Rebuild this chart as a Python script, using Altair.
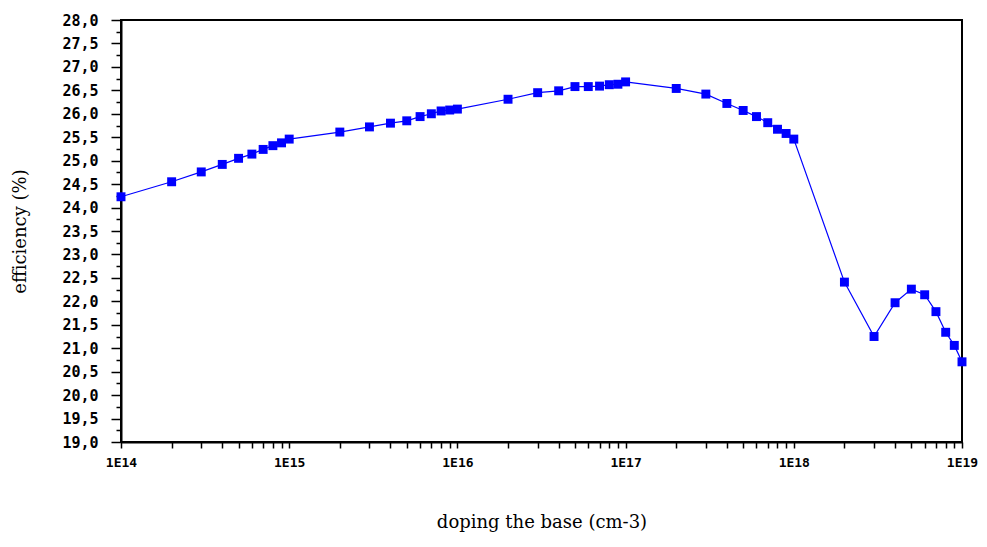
import altair as alt
import pandas as pd

doping = [
    1e14, 2e14, 3e14, 4e14, 5e14, 6e14, 7e14, 8e14, 9e14,
    1e15, 2e15, 3e15, 4e15, 5e15, 6e15, 7e15, 8e15, 9e15,
    1e16, 2e16, 3e16, 4e16, 5e16, 6e16, 7e16, 8e16, 9e16,
    1e17, 2e17, 3e17, 4e17, 5e17, 6e17, 7e17, 8e17, 9e17,
    1e18, 2e18, 3e18, 4e18, 5e18, 6e18, 7e18, 8e18, 9e18,
    1e19,
]
efficiency = [
    24.23, 24.55, 24.76, 24.92, 25.05, 25.14, 25.24, 25.32, 25.38,
    25.46, 25.61, 25.72, 25.80, 25.85, 25.94, 26.00, 26.06, 26.08,
    26.10, 26.31, 26.45, 26.49, 26.58, 26.58, 26.59, 26.62, 26.63,
    26.68, 26.54, 26.42, 26.22, 26.07, 25.94, 25.81, 25.67, 25.58,
    25.46, 22.41, 21.25, 21.97, 22.26, 22.14, 21.78, 21.34, 21.06,
    20.71,
]
y_ticks = [19 + 0.25 * i for i in range(37)]
x_ticks = doping

df = pd.DataFrame({"doping": doping, "efficiency": efficiency})

x_enc = alt.X(
    "doping:Q",
    scale=alt.Scale(type="log", domain=[1e14, 1e19], nice=False),
    axis=alt.Axis(
        values=x_ticks,
        labelExpr="abs(log(datum.value)/LN10 - round(log(datum.value)/LN10)) < 0.001 ? '1E' + round(log(datum.value)/LN10) : ''",
        labelOverlap=False,
        labelFlush=False,
        tickSize=6,
        tickWidth=1.5,
        tickColor="black",
        domainColor="black",
        domainWidth=2,
        labelFont="DejaVu Sans Mono",
        labelFontWeight="bold",
        labelFontSize=13,
        labelColor="black",
        labelPadding=8,
        title="doping the base (cm-3)",
        titleFont="DejaVu Serif",
        titleFontWeight="normal",
        titleFontSize=18,
        titleColor="black",
        titlePadding=44,
        grid=False,
    ),
)
y_enc = alt.Y(
    "efficiency:Q",
    scale=alt.Scale(domain=[19, 28], nice=False, zero=False),
    axis=alt.Axis(
        values=y_ticks,
        labelExpr="datum.value % 0.5 == 0 ? replace(format(datum.value, '.1f'), '.', ',') : ''",
        labelOverlap=False,
        tickSize={"condition": {"test": "datum.value % 0.5 == 0", "value": 10}, "value": 5},
        tickWidth=1.5,
        tickColor="black",
        domainColor="black",
        domainWidth=2,
        labelFont="DejaVu Sans Mono",
        labelFontWeight="bold",
        labelFontSize=15,
        labelColor="black",
        labelPadding=13,
        title="efficiency (%)",
        titleFont="DejaVu Serif",
        titleFontWeight="normal",
        titleFontSize=18,
        titleColor="black",
        titlePadding=32,
        grid=False,
    ),
)

line = alt.Chart(df).mark_line(color="#0000ff", strokeWidth=1.2).encode(x=x_enc, y=y_enc)
pts = alt.Chart(df).mark_point(shape="square", filled=True, color="#0000ff", size=80, opacity=1).encode(x=x_enc, y=y_enc)

chart = (
    alt.layer(line, pts)
    .properties(
        width=841,
        height=422,
        autosize=alt.AutoSizeParams(type="none"),
        padding={"left": 113, "top": 12, "right": 17, "bottom": 100},
        background="white",
    )
    .configure_view(stroke="black", strokeWidth=2)
)

chart.save("out.html", embed_options={"renderer": "svg", "actions": False})
